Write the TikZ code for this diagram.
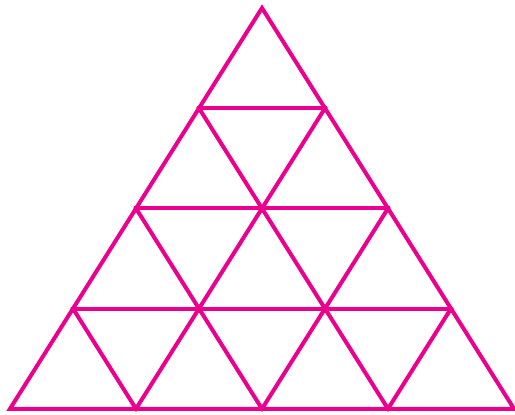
\documentclass[tikz,border=0pt]{standalone}
\usepackage{tikz}
\definecolor{mymagenta}{RGB}{234,0,140}
\tikzset{
  grid/.style={line width=0.08cm, color=mymagenta, line join=miter, line cap=rect}
}
\begin{document}
\begin{tikzpicture}[x=0.02cm, y=-0.02cm]
  \useasboundingbox (0,0) rectangle (515,414);

  % Corner points on the left and right sides, row by row
  \foreach \k in {0,...,4} {
    \coordinate (L\k) at ({262-63*\k}, {8+100.2*\k});
    \coordinate (R\k) at ({262+63*\k}, {8+100.2*\k});
  }
  % Points along the base
  \foreach \j in {0,...,4}
    \coordinate (B\j) at ({10+126*\j}, {8+100.2*4});

  % Outer triangle
  \draw[grid] (L0) -- (L4) -- (R4) -- cycle;

  % Horizontal rows
  \foreach \k in {1,2,3}
    \draw[grid] (L\k) -- (R\k);

  % Slanted lines
  \foreach \j in {1,2,3} {
    \pgfmathtruncatemacro{\m}{4-\j}
    \draw[grid] (B\j) -- (R\j);
    \draw[grid] (B\j) -- (L\m);
  }
\end{tikzpicture}
\end{document}
